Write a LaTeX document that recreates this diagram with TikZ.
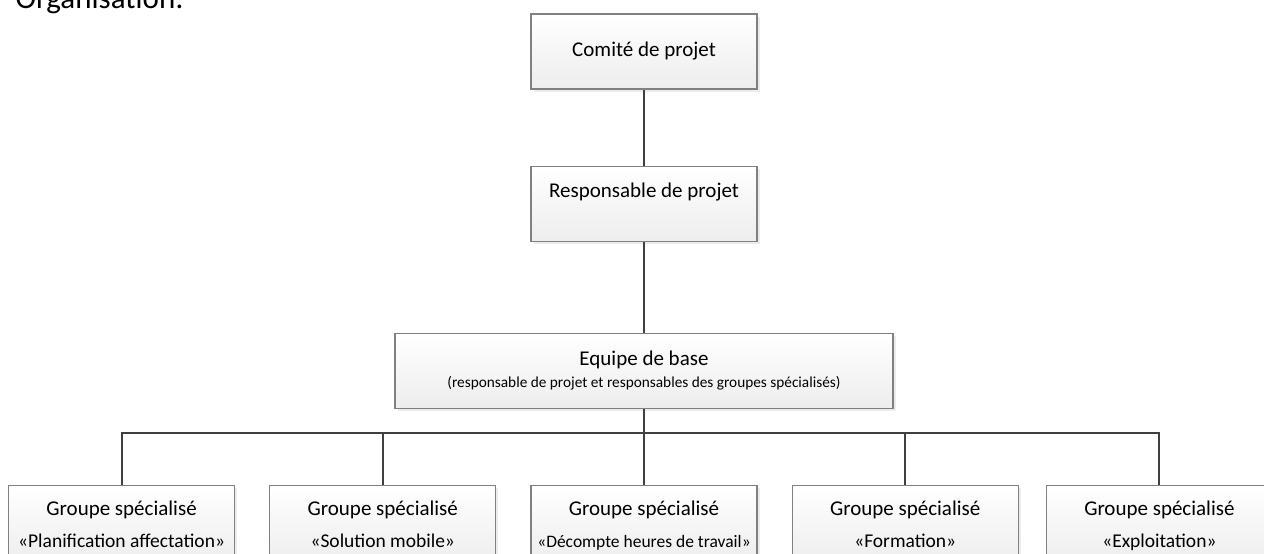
\documentclass[tikz,border=0pt]{standalone}
\usepackage{fontspec}
\setmainfont{Carlito}
\usetikzlibrary{positioning,shadows}

\newcommand{\groupname}[1]{{\fontsize{19.5}{24}\selectfont #1}}

\begin{document}
\begin{tikzpicture}[
  x=1pt, y=-1pt,
  node distance=76pt and 34pt,
  orgbox/.style={draw=black!50, line width=1.2pt, top color=white, bottom color=black!7,
    drop shadow={shadow xshift=2.5pt, shadow yshift=-2.5pt, fill=black!15},
    align=center, inner sep=2pt, minimum width=226pt, minimum height=75pt,
    font=\fontsize{21}{26}\selectfont},
  groupbox/.style={orgbox, minimum height=78pt, text height=48pt, text depth=2pt,
    font=\fontsize{21}{32}\selectfont},
  link/.style={draw=black!75, line width=2pt}
]
\useasboundingbox (0,0) rectangle (1264,554);
\node[anchor=base west, font=\fontsize{31}{36}\selectfont] (title) at (12,9) {Organisation:};
\node[orgbox] (comite) at (644,51.5) {Comité de projet};
\node[orgbox, below=of comite, text depth=27pt] (resp) {Responsable de projet};
\node[orgbox, below=91pt of resp, minimum width=498pt] (equipe)
  {Equipe de base\\[-4pt] {\fontsize{15.3}{17}\selectfont (responsable de projet et responsables des groupes spécialisés)}};
\node[groupbox, below=of equipe] (g3)
  {Groupe spécialisé\\ {\fontsize{17.5}{22}\selectfont «Décompte heures de travail»}};
\node[groupbox, left=of g3] (g2) {Groupe spécialisé\\ \groupname{«Solution mobile»}};
\node[groupbox, left=of g2] (g1) {Groupe spécialisé\\ \groupname{«Planification affectation»}};
\node[groupbox, right=of g3] (g4) {Groupe spécialisé\\ \groupname{«Formation»}};
\node[groupbox, right=27pt of g4] (g5) {Groupe spécialisé\\ \groupname{«Exploitation»}};
\coordinate[below=24pt of equipe.south] (bus);
\draw[link] (comite) -- (resp);
\draw[link] (resp) -- (equipe);
\draw[link] (equipe) -- (bus);
\foreach \g in {g1,g2,g3,g4,g5}
  \draw[link] (\g) |- (bus);
\end{tikzpicture}
\end{document}
